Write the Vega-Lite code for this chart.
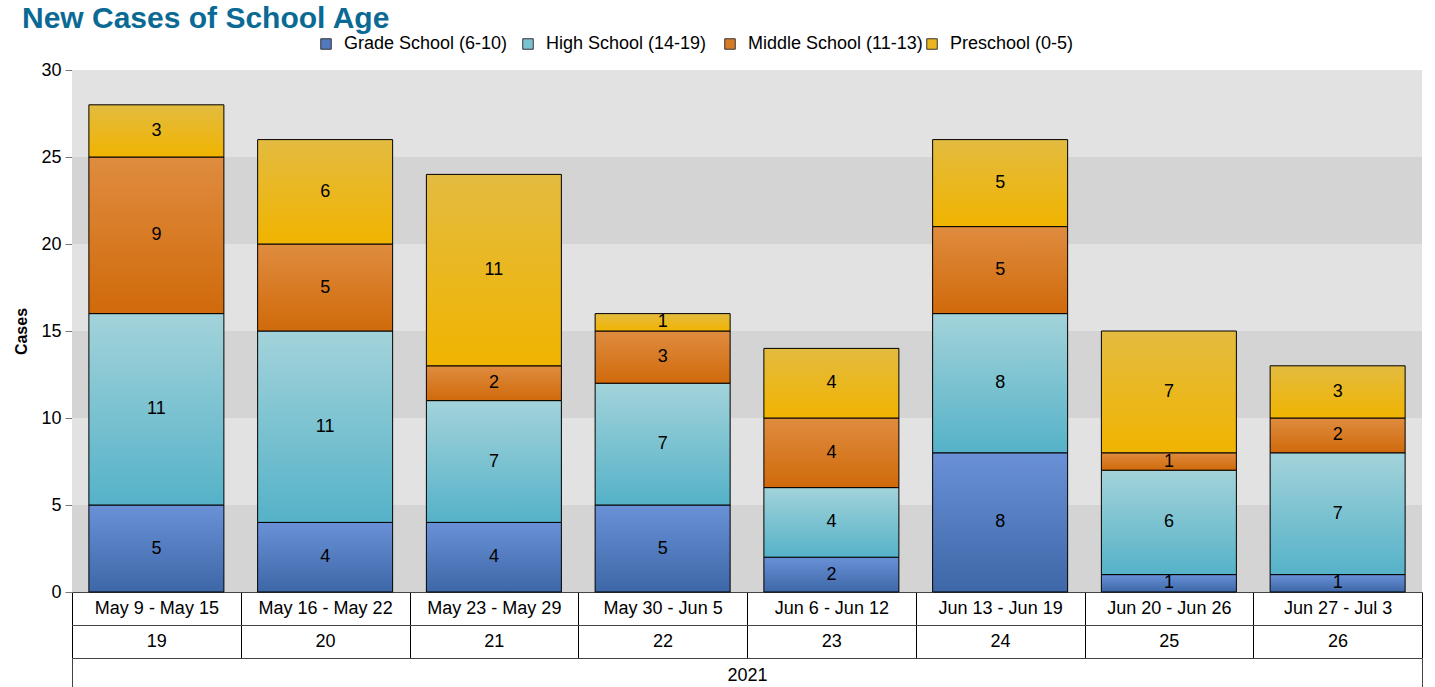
{
  "$schema": "https://vega.github.io/schema/vega-lite/v6.json",
  "width": 1350,
  "height": 522,
  "autosize": {"type": "none"},
  "padding": {"left": 72, "top": 70, "right": 13, "bottom": 95},
  "config": {"font": "Liberation Sans", "view": {"stroke": null}},
  "title": {"text": "New Cases of School Age", "anchor": "start", "frame": "group", "dx": -50, "offset": -23, "baseline": "alphabetic", "fontSize": 30, "fontWeight": "bold", "color": "#0a6a94"},
  "datasets": {
    "bars": [
      {"week": "May 9 - May 15", "wk": 19, "year": "2021", "series": "Grade School (6-10)", "cases": 5},
      {"week": "May 9 - May 15", "wk": 19, "year": "2021", "series": "High School (14-19)", "cases": 11},
      {"week": "May 9 - May 15", "wk": 19, "year": "2021", "series": "Middle School (11-13)", "cases": 9},
      {"week": "May 9 - May 15", "wk": 19, "year": "2021", "series": "Preschool (0-5)", "cases": 3},
      {"week": "May 16 - May 22", "wk": 20, "year": "2021", "series": "Grade School (6-10)", "cases": 4},
      {"week": "May 16 - May 22", "wk": 20, "year": "2021", "series": "High School (14-19)", "cases": 11},
      {"week": "May 16 - May 22", "wk": 20, "year": "2021", "series": "Middle School (11-13)", "cases": 5},
      {"week": "May 16 - May 22", "wk": 20, "year": "2021", "series": "Preschool (0-5)", "cases": 6},
      {"week": "May 23 - May 29", "wk": 21, "year": "2021", "series": "Grade School (6-10)", "cases": 4},
      {"week": "May 23 - May 29", "wk": 21, "year": "2021", "series": "High School (14-19)", "cases": 7},
      {"week": "May 23 - May 29", "wk": 21, "year": "2021", "series": "Middle School (11-13)", "cases": 2},
      {"week": "May 23 - May 29", "wk": 21, "year": "2021", "series": "Preschool (0-5)", "cases": 11},
      {"week": "May 30 - Jun 5", "wk": 22, "year": "2021", "series": "Grade School (6-10)", "cases": 5},
      {"week": "May 30 - Jun 5", "wk": 22, "year": "2021", "series": "High School (14-19)", "cases": 7},
      {"week": "May 30 - Jun 5", "wk": 22, "year": "2021", "series": "Middle School (11-13)", "cases": 3},
      {"week": "May 30 - Jun 5", "wk": 22, "year": "2021", "series": "Preschool (0-5)", "cases": 1},
      {"week": "Jun 6 - Jun 12", "wk": 23, "year": "2021", "series": "Grade School (6-10)", "cases": 2},
      {"week": "Jun 6 - Jun 12", "wk": 23, "year": "2021", "series": "High School (14-19)", "cases": 4},
      {"week": "Jun 6 - Jun 12", "wk": 23, "year": "2021", "series": "Middle School (11-13)", "cases": 4},
      {"week": "Jun 6 - Jun 12", "wk": 23, "year": "2021", "series": "Preschool (0-5)", "cases": 4},
      {"week": "Jun 13 - Jun 19", "wk": 24, "year": "2021", "series": "Grade School (6-10)", "cases": 8},
      {"week": "Jun 13 - Jun 19", "wk": 24, "year": "2021", "series": "High School (14-19)", "cases": 8},
      {"week": "Jun 13 - Jun 19", "wk": 24, "year": "2021", "series": "Middle School (11-13)", "cases": 5},
      {"week": "Jun 13 - Jun 19", "wk": 24, "year": "2021", "series": "Preschool (0-5)", "cases": 5},
      {"week": "Jun 20 - Jun 26", "wk": 25, "year": "2021", "series": "Grade School (6-10)", "cases": 1},
      {"week": "Jun 20 - Jun 26", "wk": 25, "year": "2021", "series": "High School (14-19)", "cases": 6},
      {"week": "Jun 20 - Jun 26", "wk": 25, "year": "2021", "series": "Middle School (11-13)", "cases": 1},
      {"week": "Jun 20 - Jun 26", "wk": 25, "year": "2021", "series": "Preschool (0-5)", "cases": 7},
      {"week": "Jun 27 - Jul 3", "wk": 26, "year": "2021", "series": "Grade School (6-10)", "cases": 1},
      {"week": "Jun 27 - Jul 3", "wk": 26, "year": "2021", "series": "High School (14-19)", "cases": 7},
      {"week": "Jun 27 - Jul 3", "wk": 26, "year": "2021", "series": "Middle School (11-13)", "cases": 2},
      {"week": "Jun 27 - Jul 3", "wk": 26, "year": "2021", "series": "Preschool (0-5)", "cases": 3}
    ],
    "bands": [
      {"lo": 0, "hi": 5, "shade": "dark"},
      {"lo": 5, "hi": 10, "shade": "light"},
      {"lo": 10, "hi": 15, "shade": "dark"},
      {"lo": 15, "hi": 20, "shade": "light"},
      {"lo": 20, "hi": 25, "shade": "dark"},
      {"lo": 25, "hi": 30, "shade": "light"}
    ]
  },
  "layer": [
    {
      "data": {"name": "bands"},
      "mark": {"type": "rect"},
      "encoding": {
        "y": {"field": "lo", "type": "quantitative", "scale": {"domain": [0, 30], "nice": false}, "axis": {"title": "Cases", "values": [0, 5, 10, 15, 20, 25, 30], "grid": false, "tickColor": "#777", "domainColor": "#777", "tickSize": 7, "labelFontSize": 18, "labelColor": "black", "labelPadding": 4, "titleFontSize": 16, "titleFontWeight": "bold", "titleColor": "black", "titlePadding": 11}},
        "y2": {"field": "hi"},
        "fill": {"field": "shade", "type": "nominal", "scale": {"domain": ["dark", "light"], "range": ["#d4d4d4", "#e2e2e2"]}, "legend": null}
      }
    },
    {
      "data": {"name": "bars"},
      "mark": {"type": "bar", "width": {"band": 0.8}, "stroke": "black", "strokeWidth": 1},
      "encoding": {
        "x": {"field": "week", "type": "nominal", "sort": null, "scale": {"paddingInner": 0, "paddingOuter": 0}, "axis": {"orient": "bottom", "title": null, "labelAngle": 0, "tickBand": "extent", "tickSize": 33, "tickColor": "black", "domainColor": "#444", "labelPadding": -17, "labelBaseline": "middle", "labelFontSize": 18, "labelColor": "black"}},
        "y": {"field": "cases", "type": "quantitative", "stack": "zero", "scale": {"domain": [0, 30], "nice": false}, "axis": {"title": "Cases", "values": [0, 5, 10, 15, 20, 25, 30], "grid": false, "tickColor": "#777", "domainColor": "#777", "tickSize": 7, "labelFontSize": 18, "labelColor": "black", "labelPadding": 4, "titleFontSize": 16, "titleFontWeight": "bold", "titleColor": "black", "titlePadding": 11}},
        "fill": {
          "condition": [
            {"test": "datum.series === 'Grade School (6-10)'", "value": {"gradient": "linear", "x1": 0, "y1": 0, "x2": 0, "y2": 1, "stops": [{"offset": 0, "color": "#6a91d7"}, {"offset": 1, "color": "#3d67a7"}]}},
            {"test": "datum.series === 'High School (14-19)'", "value": {"gradient": "linear", "x1": 0, "y1": 0, "x2": 0, "y2": 1, "stops": [{"offset": 0, "color": "#a3d3da"}, {"offset": 1, "color": "#55b2c8"}]}},
            {"test": "datum.series === 'Middle School (11-13)'", "value": {"gradient": "linear", "x1": 0, "y1": 0, "x2": 0, "y2": 1, "stops": [{"offset": 0, "color": "#df8c3f"}, {"offset": 1, "color": "#d06a0b"}]}}
          ],
          "value": {"gradient": "linear", "x1": 0, "y1": 0, "x2": 0, "y2": 1, "stops": [{"offset": 0, "color": "#e3bb40"}, {"offset": 1, "color": "#f0b400"}]}
        },
        "detail": {"field": "series", "type": "nominal"},
        "order": {"field": "series", "sort": "ascending"}
      }
    },
    {
      "data": {"name": "bars"},
      "mark": {"type": "square", "opacity": 0, "filled": true},
      "encoding": {
        "x": {"field": "week", "type": "nominal", "sort": null, "scale": {"paddingInner": 0, "paddingOuter": 0}, "axis": null},
        "y": {"field": "cases", "type": "quantitative", "stack": "zero", "scale": {"domain": [0, 30], "nice": false}, "axis": {"title": "Cases", "values": [0, 5, 10, 15, 20, 25, 30], "grid": false, "tickColor": "#777", "domainColor": "#777", "tickSize": 7, "labelFontSize": 18, "labelColor": "black", "labelPadding": 4, "titleFontSize": 16, "titleFontWeight": "bold", "titleColor": "black", "titlePadding": 11}},
        "color": {"field": "series", "type": "nominal", "scale": {"domain": ["Grade School (6-10)", "High School (14-19)", "Middle School (11-13)", "Preschool (0-5)"], "range": ["#5279bf", "#7cc3d1", "#d87b25", "#eab620"]}, "legend": {"orient": "none", "legendX": 245, "legendY": -35, "direction": "horizontal", "title": null, "symbolType": "square", "symbolSize": 110, "symbolOpacity": 1, "symbolStrokeColor": "#333", "symbolStrokeWidth": 1, "labelFontSize": 18, "labelLimit": 400, "labelColor": "black", "gridAlign": "all", "columnPadding": -13, "labelOffset": 9}}
      }
    },
    {
      "data": {"name": "bars"},
      "mark": {"type": "text", "fontSize": 18, "color": "black", "align": "center", "baseline": "middle"},
      "encoding": {
        "x": {"field": "week", "type": "nominal", "sort": null, "scale": {"paddingInner": 0, "paddingOuter": 0}, "axis": null},
        "y": {"field": "cases", "type": "quantitative", "stack": "zero", "bandPosition": 0.5, "scale": {"domain": [0, 30], "nice": false}, "axis": {"title": "Cases", "values": [0, 5, 10, 15, 20, 25, 30], "grid": false, "tickColor": "#777", "domainColor": "#777", "tickSize": 7, "labelFontSize": 18, "labelColor": "black", "labelPadding": 4, "titleFontSize": 16, "titleFontWeight": "bold", "titleColor": "black", "titlePadding": 11}},
        "detail": {"field": "series", "type": "nominal"},
        "order": {"field": "series", "sort": "ascending"},
        "text": {"field": "cases", "type": "quantitative"}
      }
    },
    {
      "data": {"name": "bars"},
      "mark": {"type": "text", "opacity": 0},
      "encoding": {
        "x": {"field": "wk", "type": "ordinal", "scale": {"paddingInner": 0, "paddingOuter": 0}, "axis": {"orient": "bottom", "offset": 33, "title": null, "labelAngle": 0, "tickBand": "extent", "tickSize": 33, "tickColor": "black", "domainColor": "#444", "labelPadding": -17, "labelBaseline": "middle", "labelFontSize": 18, "labelColor": "black"}}
      }
    },
    {
      "data": {"name": "bars"},
      "mark": {"type": "text", "opacity": 0},
      "encoding": {
        "x": {"field": "year", "type": "nominal", "scale": {"paddingInner": 0, "paddingOuter": 0}, "axis": {"orient": "bottom", "offset": 66, "title": null, "labelAngle": 0, "tickBand": "extent", "tickSize": 40, "tickColor": "#444", "domainColor": "#444", "labelPadding": -23, "labelBaseline": "middle", "labelFontSize": 18, "labelColor": "black"}}
      }
    }
  ],
  "resolve": {"scale": {"x": "independent"}}
}
